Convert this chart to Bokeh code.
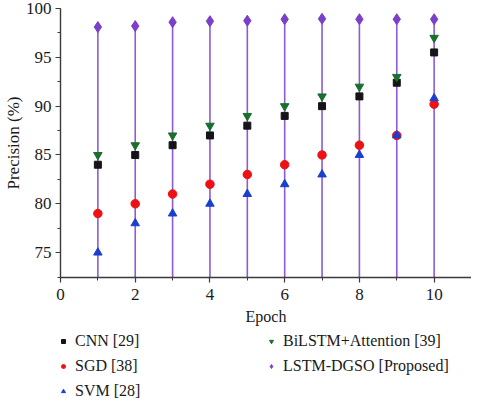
from bokeh.plotting import figure
from bokeh.layouts import column
from bokeh.models import Legend, LegendItem, Range1d, SingleIntervalTicker
from bokeh.embed import file_html
from bokeh.resources import INLINE

epochs = [1, 2, 3, 4, 5, 6, 7, 8, 9, 10]
cnn = [84, 85, 86, 87, 88, 89, 90, 91, 92.4, 95.5]
sgd = [79, 80, 81, 82, 83, 84, 85, 86, 87, 90.2]
svm = [75, 78, 79, 80, 81, 82, 83, 85, 87, 90.8]
bilstm = [85, 86, 87, 88, 89, 90, 91, 92, 93, 97]
lstm_dgso = [98.1, 98.2, 98.6, 98.7, 98.75, 98.9, 98.95, 98.9, 98.9, 98.9]

labels = ["CNN [29]", "SGD [38]", "SVM [28]", "BiLSTM+Attention [39]", "LSTM-DGSO [Proposed]"]

FONT = "Liberation Serif"
Y0, Y1 = 72.45, 100.0

styles = [
    dict(marker="square", size=7, color="#151515"),
    dict(marker="circle", size=8.5, color="#ee1111"),
    dict(marker="triangle", size=8.5, color="#1a3fd0"),
    dict(marker="inverted_triangle", size=8.5, color="#18702c"),
    dict(marker="diamond", size=11, color="#7b3fc9"),
]
series = [cnn, sgd, svm, bilstm, lstm_dgso]

p = figure(width=471, height=332, output_backend="svg", toolbar_location=None,
           x_range=Range1d(0, 11), y_range=Range1d(Y0, Y1),
           min_border_left=54, min_border_right=0, min_border_top=8, min_border_bottom=55)
p.outline_line_color = None
p.xgrid.visible = False
p.ygrid.visible = False

# drop lines for proposed model
p.segment(x0=epochs, y0=[Y0] * len(epochs), x1=epochs, y1=lstm_dgso,
          line_color="#8a5cd6", line_width=1.6)

for s, st in zip(series, styles):
    p.scatter(epochs, s, **st)

for ax in (p.xaxis[0], p.yaxis[0]):
    ax.axis_line_color = "#3a3a3a"
    ax.axis_line_width = 1.4
    ax.major_tick_line_color = "#3a3a3a"
    ax.minor_tick_line_color = "#3a3a3a"
    ax.major_tick_line_width = 1.2
    ax.minor_tick_line_width = 1.0
    ax.major_tick_in = 0
    ax.major_tick_out = 5
    ax.minor_tick_in = 0
    ax.minor_tick_out = 3
    ax.major_label_text_font = FONT
    ax.major_label_text_font_size = "17px"
    ax.major_label_text_color = "#1a1a1a"
    ax.axis_label_text_font = FONT
    ax.axis_label_text_font_style = "normal"
    ax.axis_label_text_color = "#1a1a1a"

p.xaxis.ticker = SingleIntervalTicker(interval=2, num_minor_ticks=2)
p.yaxis.ticker = SingleIntervalTicker(interval=5, num_minor_ticks=2)
p.xaxis.axis_label = "Epoch"
p.xaxis.axis_label_text_font_size = "16px"
p.xaxis.major_label_standoff = 6
p.xaxis.axis_label_standoff = 5
p.yaxis.axis_label = "Precision (%)"
p.yaxis.axis_label_text_font_size = "17px"
p.yaxis.major_label_standoff = 4
p.yaxis.axis_label_standoff = 0

# legend panel (its scatter glyphs fall outside its own range, only the legend shows)
lg = figure(width=471, height=68, output_backend="svg", toolbar_location=None,
            x_range=Range1d(0, 1), y_range=Range1d(0, 1),
            x_axis_location=None, y_axis_location=None,
            min_border_left=0, min_border_right=0, min_border_top=0, min_border_bottom=0)
lg.xgrid.visible = False
lg.ygrid.visible = False
lg.outline_line_color = None
items = []
for l, s, st in zip(labels, series, styles):
    r = lg.scatter(epochs, s, **st)
    items.append(LegendItem(label=l, renderers=[r]))
legend = Legend(items=items, location=(-2, 0), nrows=3, orientation="vertical",
                glyph_width=10, glyph_height=16, label_height=16, label_width=184,
                label_standoff=7, spacing=7, padding=0, margin=0,
                border_line_alpha=0, background_fill_alpha=0,
                label_text_font=FONT, label_text_font_size="16px",
                label_text_color="#1a1a1a")
lg.add_layout(legend, "center")

layout = column(p, lg, spacing=0)
open("out.html", "w").write(file_html(layout, INLINE))
